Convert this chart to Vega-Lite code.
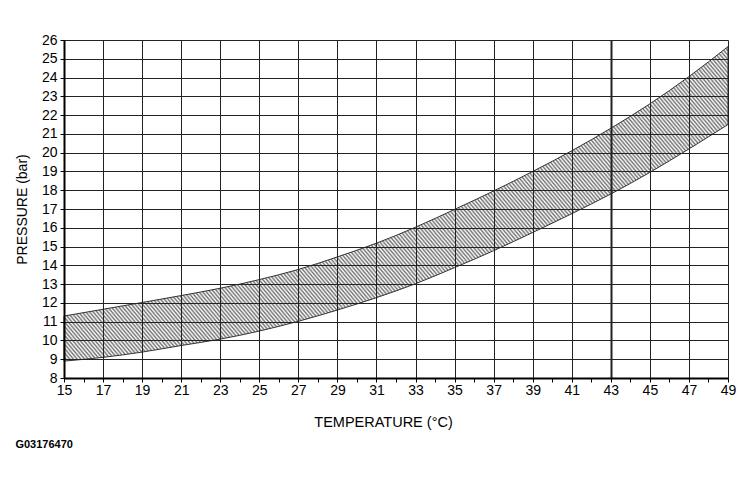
{
"$schema": "https://vega.github.io/schema/vega-lite/v6.json",
"width": 664,
"height": 338,
"autosize": {"type": "none"},
"padding": {"left": 64, "top": 40, "right": 22, "bottom": 105},
"background": "white",
"view": {"stroke": null},
"config": {"font": "Liberation Sans"},
"title": {"text": "G03176470", "orient": "bottom", "anchor": "start", "frame": "bounds", "baseline": "top", "offset": 10, "font": "Liberation Sans", "fontSize": 11, "fontWeight": "bold", "color": "black"},
"data": {"values": [
{"T": 15, "upper": 11.3, "lower": 8.9},
{"T": 17, "upper": 11.66, "lower": 9.1},
{"T": 19, "upper": 12.02, "lower": 9.38},
{"T": 21, "upper": 12.39, "lower": 9.73},
{"T": 23, "upper": 12.78, "lower": 10.07},
{"T": 25, "upper": 13.24, "lower": 10.5},
{"T": 27, "upper": 13.78, "lower": 11.02},
{"T": 29, "upper": 14.45, "lower": 11.62},
{"T": 31, "upper": 15.18, "lower": 12.28},
{"T": 33, "upper": 16.03, "lower": 13.02},
{"T": 35, "upper": 16.98, "lower": 13.88},
{"T": 37, "upper": 17.96, "lower": 14.78},
{"T": 39, "upper": 19.0, "lower": 15.75},
{"T": 41, "upper": 20.1, "lower": 16.75},
{"T": 43, "upper": 21.3, "lower": 17.8},
{"T": 45, "upper": 22.6, "lower": 18.95},
{"T": 47, "upper": 24.05, "lower": 20.2},
{"T": 49, "upper": 25.65, "lower": 21.5}
]},
"mark": {"type": "area", "interpolate": "monotone", "opacity": 1, "stroke": "#333", "strokeWidth": 1,
"fill": {"gradient": "linear", "x1": 0, "y1": 1, "x2": 1.207, "y2": 0.52, "stops": [
{"offset":0,"color":"#707070"},{"offset":0.002,"color":"#fff"},{"offset":0.004,"color":"#707070"},{"offset":0.006,"color":"#fff"},{"offset":0.008,"color":"#707070"},{"offset":0.01,"color":"#fff"},{"offset":0.012,"color":"#707070"},{"offset":0.014,"color":"#fff"},{"offset":0.016,"color":"#707070"},{"offset":0.018,"color":"#fff"},
{"offset":0.02,"color":"#707070"},{"offset":0.022,"color":"#fff"},{"offset":0.024,"color":"#707070"},{"offset":0.026,"color":"#fff"},{"offset":0.028,"color":"#707070"},{"offset":0.03,"color":"#fff"},{"offset":0.032,"color":"#707070"},{"offset":0.034,"color":"#fff"},{"offset":0.036,"color":"#707070"},{"offset":0.038,"color":"#fff"},
{"offset":0.04,"color":"#707070"},{"offset":0.042,"color":"#fff"},{"offset":0.044,"color":"#707070"},{"offset":0.046,"color":"#fff"},{"offset":0.048,"color":"#707070"},{"offset":0.05,"color":"#fff"},{"offset":0.052,"color":"#707070"},{"offset":0.054,"color":"#fff"},{"offset":0.056,"color":"#707070"},{"offset":0.058,"color":"#fff"},
{"offset":0.06,"color":"#707070"},{"offset":0.062,"color":"#fff"},{"offset":0.064,"color":"#707070"},{"offset":0.066,"color":"#fff"},{"offset":0.068,"color":"#707070"},{"offset":0.07,"color":"#fff"},{"offset":0.072,"color":"#707070"},{"offset":0.074,"color":"#fff"},{"offset":0.076,"color":"#707070"},{"offset":0.078,"color":"#fff"},
{"offset":0.08,"color":"#707070"},{"offset":0.082,"color":"#fff"},{"offset":0.084,"color":"#707070"},{"offset":0.086,"color":"#fff"},{"offset":0.088,"color":"#707070"},{"offset":0.09,"color":"#fff"},{"offset":0.092,"color":"#707070"},{"offset":0.094,"color":"#fff"},{"offset":0.096,"color":"#707070"},{"offset":0.098,"color":"#fff"},
{"offset":0.1,"color":"#707070"},{"offset":0.102,"color":"#fff"},{"offset":0.104,"color":"#707070"},{"offset":0.106,"color":"#fff"},{"offset":0.108,"color":"#707070"},{"offset":0.11,"color":"#fff"},{"offset":0.112,"color":"#707070"},{"offset":0.114,"color":"#fff"},{"offset":0.116,"color":"#707070"},{"offset":0.118,"color":"#fff"},
{"offset":0.12,"color":"#707070"},{"offset":0.122,"color":"#fff"},{"offset":0.124,"color":"#707070"},{"offset":0.126,"color":"#fff"},{"offset":0.128,"color":"#707070"},{"offset":0.13,"color":"#fff"},{"offset":0.132,"color":"#707070"},{"offset":0.134,"color":"#fff"},{"offset":0.136,"color":"#707070"},{"offset":0.138,"color":"#fff"},
{"offset":0.14,"color":"#707070"},{"offset":0.142,"color":"#fff"},{"offset":0.144,"color":"#707070"},{"offset":0.146,"color":"#fff"},{"offset":0.148,"color":"#707070"},{"offset":0.15,"color":"#fff"},{"offset":0.152,"color":"#707070"},{"offset":0.154,"color":"#fff"},{"offset":0.156,"color":"#707070"},{"offset":0.158,"color":"#fff"},
{"offset":0.16,"color":"#707070"},{"offset":0.162,"color":"#fff"},{"offset":0.164,"color":"#707070"},{"offset":0.166,"color":"#fff"},{"offset":0.168,"color":"#707070"},{"offset":0.17,"color":"#fff"},{"offset":0.172,"color":"#707070"},{"offset":0.174,"color":"#fff"},{"offset":0.176,"color":"#707070"},{"offset":0.178,"color":"#fff"},
{"offset":0.18,"color":"#707070"},{"offset":0.182,"color":"#fff"},{"offset":0.184,"color":"#707070"},{"offset":0.186,"color":"#fff"},{"offset":0.188,"color":"#707070"},{"offset":0.19,"color":"#fff"},{"offset":0.192,"color":"#707070"},{"offset":0.194,"color":"#fff"},{"offset":0.196,"color":"#707070"},{"offset":0.198,"color":"#fff"},
{"offset":0.2,"color":"#707070"},{"offset":0.202,"color":"#fff"},{"offset":0.204,"color":"#707070"},{"offset":0.206,"color":"#fff"},{"offset":0.208,"color":"#707070"},{"offset":0.21,"color":"#fff"},{"offset":0.212,"color":"#707070"},{"offset":0.214,"color":"#fff"},{"offset":0.216,"color":"#707070"},{"offset":0.218,"color":"#fff"},
{"offset":0.22,"color":"#707070"},{"offset":0.222,"color":"#fff"},{"offset":0.224,"color":"#707070"},{"offset":0.226,"color":"#fff"},{"offset":0.228,"color":"#707070"},{"offset":0.23,"color":"#fff"},{"offset":0.232,"color":"#707070"},{"offset":0.234,"color":"#fff"},{"offset":0.236,"color":"#707070"},{"offset":0.238,"color":"#fff"},
{"offset":0.24,"color":"#707070"},{"offset":0.242,"color":"#fff"},{"offset":0.244,"color":"#707070"},{"offset":0.246,"color":"#fff"},{"offset":0.248,"color":"#707070"},{"offset":0.25,"color":"#fff"},{"offset":0.252,"color":"#707070"},{"offset":0.254,"color":"#fff"},{"offset":0.256,"color":"#707070"},{"offset":0.258,"color":"#fff"},
{"offset":0.26,"color":"#707070"},{"offset":0.262,"color":"#fff"},{"offset":0.264,"color":"#707070"},{"offset":0.266,"color":"#fff"},{"offset":0.268,"color":"#707070"},{"offset":0.27,"color":"#fff"},{"offset":0.272,"color":"#707070"},{"offset":0.274,"color":"#fff"},{"offset":0.276,"color":"#707070"},{"offset":0.278,"color":"#fff"},
{"offset":0.28,"color":"#707070"},{"offset":0.282,"color":"#fff"},{"offset":0.284,"color":"#707070"},{"offset":0.286,"color":"#fff"},{"offset":0.288,"color":"#707070"},{"offset":0.29,"color":"#fff"},{"offset":0.292,"color":"#707070"},{"offset":0.294,"color":"#fff"},{"offset":0.296,"color":"#707070"},{"offset":0.298,"color":"#fff"},
{"offset":0.3,"color":"#707070"},{"offset":0.302,"color":"#fff"},{"offset":0.304,"color":"#707070"},{"offset":0.306,"color":"#fff"},{"offset":0.308,"color":"#707070"},{"offset":0.31,"color":"#fff"},{"offset":0.312,"color":"#707070"},{"offset":0.314,"color":"#fff"},{"offset":0.316,"color":"#707070"},{"offset":0.318,"color":"#fff"},
{"offset":0.32,"color":"#707070"},{"offset":0.322,"color":"#fff"},{"offset":0.324,"color":"#707070"},{"offset":0.326,"color":"#fff"},{"offset":0.328,"color":"#707070"},{"offset":0.33,"color":"#fff"},{"offset":0.332,"color":"#707070"},{"offset":0.334,"color":"#fff"},{"offset":0.336,"color":"#707070"},{"offset":0.338,"color":"#fff"},
{"offset":0.34,"color":"#707070"},{"offset":0.342,"color":"#fff"},{"offset":0.344,"color":"#707070"},{"offset":0.346,"color":"#fff"},{"offset":0.348,"color":"#707070"},{"offset":0.35,"color":"#fff"},{"offset":0.352,"color":"#707070"},{"offset":0.354,"color":"#fff"},{"offset":0.356,"color":"#707070"},{"offset":0.358,"color":"#fff"},
{"offset":0.36,"color":"#707070"},{"offset":0.362,"color":"#fff"},{"offset":0.364,"color":"#707070"},{"offset":0.366,"color":"#fff"},{"offset":0.368,"color":"#707070"},{"offset":0.37,"color":"#fff"},{"offset":0.372,"color":"#707070"},{"offset":0.374,"color":"#fff"},{"offset":0.376,"color":"#707070"},{"offset":0.378,"color":"#fff"},
{"offset":0.38,"color":"#707070"},{"offset":0.382,"color":"#fff"},{"offset":0.384,"color":"#707070"},{"offset":0.386,"color":"#fff"},{"offset":0.388,"color":"#707070"},{"offset":0.39,"color":"#fff"},{"offset":0.392,"color":"#707070"},{"offset":0.394,"color":"#fff"},{"offset":0.396,"color":"#707070"},{"offset":0.398,"color":"#fff"},
{"offset":0.4,"color":"#707070"},{"offset":0.402,"color":"#fff"},{"offset":0.404,"color":"#707070"},{"offset":0.406,"color":"#fff"},{"offset":0.408,"color":"#707070"},{"offset":0.41,"color":"#fff"},{"offset":0.412,"color":"#707070"},{"offset":0.414,"color":"#fff"},{"offset":0.416,"color":"#707070"},{"offset":0.418,"color":"#fff"},
{"offset":0.42,"color":"#707070"},{"offset":0.422,"color":"#fff"},{"offset":0.424,"color":"#707070"},{"offset":0.426,"color":"#fff"},{"offset":0.428,"color":"#707070"},{"offset":0.43,"color":"#fff"},{"offset":0.432,"color":"#707070"},{"offset":0.434,"color":"#fff"},{"offset":0.436,"color":"#707070"},{"offset":0.438,"color":"#fff"},
{"offset":0.44,"color":"#707070"},{"offset":0.442,"color":"#fff"},{"offset":0.444,"color":"#707070"},{"offset":0.446,"color":"#fff"},{"offset":0.448,"color":"#707070"},{"offset":0.45,"color":"#fff"},{"offset":0.452,"color":"#707070"},{"offset":0.454,"color":"#fff"},{"offset":0.456,"color":"#707070"},{"offset":0.458,"color":"#fff"},
{"offset":0.46,"color":"#707070"},{"offset":0.462,"color":"#fff"},{"offset":0.464,"color":"#707070"},{"offset":0.466,"color":"#fff"},{"offset":0.468,"color":"#707070"},{"offset":0.47,"color":"#fff"},{"offset":0.472,"color":"#707070"},{"offset":0.474,"color":"#fff"},{"offset":0.476,"color":"#707070"},{"offset":0.478,"color":"#fff"},
{"offset":0.48,"color":"#707070"},{"offset":0.482,"color":"#fff"},{"offset":0.484,"color":"#707070"},{"offset":0.486,"color":"#fff"},{"offset":0.488,"color":"#707070"},{"offset":0.49,"color":"#fff"},{"offset":0.492,"color":"#707070"},{"offset":0.494,"color":"#fff"},{"offset":0.496,"color":"#707070"},{"offset":0.498,"color":"#fff"},
{"offset":0.5,"color":"#707070"},{"offset":0.502,"color":"#fff"},{"offset":0.504,"color":"#707070"},{"offset":0.506,"color":"#fff"},{"offset":0.508,"color":"#707070"},{"offset":0.51,"color":"#fff"},{"offset":0.512,"color":"#707070"},{"offset":0.514,"color":"#fff"},{"offset":0.516,"color":"#707070"},{"offset":0.518,"color":"#fff"},
{"offset":0.52,"color":"#707070"},{"offset":0.522,"color":"#fff"},{"offset":0.524,"color":"#707070"},{"offset":0.526,"color":"#fff"},{"offset":0.528,"color":"#707070"},{"offset":0.53,"color":"#fff"},{"offset":0.532,"color":"#707070"},{"offset":0.534,"color":"#fff"},{"offset":0.536,"color":"#707070"},{"offset":0.538,"color":"#fff"},
{"offset":0.54,"color":"#707070"},{"offset":0.542,"color":"#fff"},{"offset":0.544,"color":"#707070"},{"offset":0.546,"color":"#fff"},{"offset":0.548,"color":"#707070"},{"offset":0.55,"color":"#fff"},{"offset":0.552,"color":"#707070"},{"offset":0.554,"color":"#fff"},{"offset":0.556,"color":"#707070"},{"offset":0.558,"color":"#fff"},
{"offset":0.56,"color":"#707070"},{"offset":0.562,"color":"#fff"},{"offset":0.564,"color":"#707070"},{"offset":0.566,"color":"#fff"},{"offset":0.568,"color":"#707070"},{"offset":0.57,"color":"#fff"},{"offset":0.572,"color":"#707070"},{"offset":0.574,"color":"#fff"},{"offset":0.576,"color":"#707070"},{"offset":0.578,"color":"#fff"},
{"offset":0.58,"color":"#707070"},{"offset":0.582,"color":"#fff"},{"offset":0.584,"color":"#707070"},{"offset":0.586,"color":"#fff"},{"offset":0.588,"color":"#707070"},{"offset":0.59,"color":"#fff"},{"offset":0.592,"color":"#707070"},{"offset":0.594,"color":"#fff"},{"offset":0.596,"color":"#707070"},{"offset":0.598,"color":"#fff"},
{"offset":0.6,"color":"#707070"},{"offset":0.602,"color":"#fff"},{"offset":0.604,"color":"#707070"},{"offset":0.606,"color":"#fff"},{"offset":0.608,"color":"#707070"},{"offset":0.61,"color":"#fff"},{"offset":0.612,"color":"#707070"},{"offset":0.614,"color":"#fff"},{"offset":0.616,"color":"#707070"},{"offset":0.618,"color":"#fff"},
{"offset":0.62,"color":"#707070"},{"offset":0.622,"color":"#fff"},{"offset":0.624,"color":"#707070"},{"offset":0.626,"color":"#fff"},{"offset":0.628,"color":"#707070"},{"offset":0.63,"color":"#fff"},{"offset":0.632,"color":"#707070"},{"offset":0.634,"color":"#fff"},{"offset":0.636,"color":"#707070"},{"offset":0.638,"color":"#fff"},
{"offset":0.64,"color":"#707070"},{"offset":0.642,"color":"#fff"},{"offset":0.644,"color":"#707070"},{"offset":0.646,"color":"#fff"},{"offset":0.648,"color":"#707070"},{"offset":0.65,"color":"#fff"},{"offset":0.652,"color":"#707070"},{"offset":0.654,"color":"#fff"},{"offset":0.656,"color":"#707070"},{"offset":0.658,"color":"#fff"},
{"offset":0.66,"color":"#707070"},{"offset":0.662,"color":"#fff"},{"offset":0.664,"color":"#707070"},{"offset":0.666,"color":"#fff"},{"offset":0.668,"color":"#707070"},{"offset":0.67,"color":"#fff"},{"offset":0.672,"color":"#707070"},{"offset":0.674,"color":"#fff"},{"offset":0.676,"color":"#707070"},{"offset":0.678,"color":"#fff"},
{"offset":0.68,"color":"#707070"},{"offset":0.682,"color":"#fff"},{"offset":0.684,"color":"#707070"},{"offset":0.686,"color":"#fff"},{"offset":0.688,"color":"#707070"},{"offset":0.69,"color":"#fff"},{"offset":0.692,"color":"#707070"},{"offset":0.694,"color":"#fff"},{"offset":0.696,"color":"#707070"},{"offset":0.698,"color":"#fff"},
{"offset":0.7,"color":"#707070"},{"offset":0.702,"color":"#fff"},{"offset":0.704,"color":"#707070"},{"offset":0.706,"color":"#fff"},{"offset":0.708,"color":"#707070"},{"offset":0.71,"color":"#fff"},{"offset":0.712,"color":"#707070"},{"offset":0.714,"color":"#fff"},{"offset":0.716,"color":"#707070"},{"offset":0.718,"color":"#fff"},
{"offset":0.72,"color":"#707070"},{"offset":0.722,"color":"#fff"},{"offset":0.724,"color":"#707070"},{"offset":0.726,"color":"#fff"},{"offset":0.728,"color":"#707070"},{"offset":0.73,"color":"#fff"},{"offset":0.732,"color":"#707070"},{"offset":0.734,"color":"#fff"},{"offset":0.736,"color":"#707070"},{"offset":0.738,"color":"#fff"},
{"offset":0.74,"color":"#707070"},{"offset":0.742,"color":"#fff"},{"offset":0.744,"color":"#707070"},{"offset":0.746,"color":"#fff"},{"offset":0.748,"color":"#707070"},{"offset":0.75,"color":"#fff"},{"offset":0.752,"color":"#707070"},{"offset":0.754,"color":"#fff"},{"offset":0.756,"color":"#707070"},{"offset":0.758,"color":"#fff"},
{"offset":0.76,"color":"#707070"},{"offset":0.762,"color":"#fff"},{"offset":0.764,"color":"#707070"},{"offset":0.766,"color":"#fff"},{"offset":0.768,"color":"#707070"},{"offset":0.77,"color":"#fff"},{"offset":0.772,"color":"#707070"},{"offset":0.774,"color":"#fff"},{"offset":0.776,"color":"#707070"},{"offset":0.778,"color":"#fff"},
{"offset":0.78,"color":"#707070"},{"offset":0.782,"color":"#fff"},{"offset":0.784,"color":"#707070"},{"offset":0.786,"color":"#fff"},{"offset":0.788,"color":"#707070"},{"offset":0.79,"color":"#fff"},{"offset":0.792,"color":"#707070"},{"offset":0.794,"color":"#fff"},{"offset":0.796,"color":"#707070"},{"offset":0.798,"color":"#fff"},
{"offset":0.8,"color":"#707070"},{"offset":0.802,"color":"#fff"},{"offset":0.804,"color":"#707070"},{"offset":0.806,"color":"#fff"},{"offset":0.808,"color":"#707070"},{"offset":0.81,"color":"#fff"},{"offset":0.812,"color":"#707070"},{"offset":0.814,"color":"#fff"},{"offset":0.816,"color":"#707070"},{"offset":0.818,"color":"#fff"},
{"offset":0.82,"color":"#707070"},{"offset":0.822,"color":"#fff"},{"offset":0.824,"color":"#707070"},{"offset":0.826,"color":"#fff"},{"offset":0.828,"color":"#707070"},{"offset":0.83,"color":"#fff"},{"offset":0.832,"color":"#707070"},{"offset":0.834,"color":"#fff"},{"offset":0.836,"color":"#707070"},{"offset":0.838,"color":"#fff"},
{"offset":0.84,"color":"#707070"},{"offset":0.842,"color":"#fff"},{"offset":0.844,"color":"#707070"},{"offset":0.846,"color":"#fff"},{"offset":0.848,"color":"#707070"},{"offset":0.85,"color":"#fff"},{"offset":0.852,"color":"#707070"},{"offset":0.854,"color":"#fff"},{"offset":0.856,"color":"#707070"},{"offset":0.858,"color":"#fff"},
{"offset":0.86,"color":"#707070"},{"offset":0.862,"color":"#fff"},{"offset":0.864,"color":"#707070"},{"offset":0.866,"color":"#fff"},{"offset":0.868,"color":"#707070"},{"offset":0.87,"color":"#fff"},{"offset":0.872,"color":"#707070"},{"offset":0.874,"color":"#fff"},{"offset":0.876,"color":"#707070"},{"offset":0.878,"color":"#fff"},
{"offset":0.88,"color":"#707070"},{"offset":0.882,"color":"#fff"},{"offset":0.884,"color":"#707070"},{"offset":0.886,"color":"#fff"},{"offset":0.888,"color":"#707070"},{"offset":0.89,"color":"#fff"},{"offset":0.892,"color":"#707070"},{"offset":0.894,"color":"#fff"},{"offset":0.896,"color":"#707070"},{"offset":0.898,"color":"#fff"},
{"offset":0.9,"color":"#707070"},{"offset":0.902,"color":"#fff"},{"offset":0.904,"color":"#707070"},{"offset":0.906,"color":"#fff"},{"offset":0.908,"color":"#707070"},{"offset":0.91,"color":"#fff"},{"offset":0.912,"color":"#707070"},{"offset":0.914,"color":"#fff"},{"offset":0.916,"color":"#707070"},{"offset":0.918,"color":"#fff"},
{"offset":0.92,"color":"#707070"},{"offset":0.922,"color":"#fff"},{"offset":0.924,"color":"#707070"},{"offset":0.926,"color":"#fff"},{"offset":0.928,"color":"#707070"},{"offset":0.93,"color":"#fff"},{"offset":0.932,"color":"#707070"},{"offset":0.934,"color":"#fff"},{"offset":0.936,"color":"#707070"},{"offset":0.938,"color":"#fff"},
{"offset":0.94,"color":"#707070"},{"offset":0.942,"color":"#fff"},{"offset":0.944,"color":"#707070"},{"offset":0.946,"color":"#fff"},{"offset":0.948,"color":"#707070"},{"offset":0.95,"color":"#fff"},{"offset":0.952,"color":"#707070"},{"offset":0.954,"color":"#fff"},{"offset":0.956,"color":"#707070"},{"offset":0.958,"color":"#fff"},
{"offset":0.96,"color":"#707070"},{"offset":0.962,"color":"#fff"},{"offset":0.964,"color":"#707070"},{"offset":0.966,"color":"#fff"},{"offset":0.968,"color":"#707070"},{"offset":0.97,"color":"#fff"},{"offset":0.972,"color":"#707070"},{"offset":0.974,"color":"#fff"},{"offset":0.976,"color":"#707070"},{"offset":0.978,"color":"#fff"},
{"offset":0.98,"color":"#707070"},{"offset":0.982,"color":"#fff"},{"offset":0.984,"color":"#707070"},{"offset":0.986,"color":"#fff"},{"offset":0.988,"color":"#707070"},{"offset":0.99,"color":"#fff"},{"offset":0.992,"color":"#707070"},{"offset":0.994,"color":"#fff"},{"offset":0.996,"color":"#707070"},{"offset":0.998,"color":"#fff"},
{"offset":1,"color":"#707070"}
]}},
"encoding": {
"x": {"field": "T", "type": "quantitative", "scale": {"domain": [15, 49], "nice": false, "zero": false},
"axis": {"title": "TEMPERATURE (°C)", "values": [15,16,17,18,19,20,21,22,23,24,25,26,27,28,29,30,31,32,33,34,35,36,37,38,39,40,41,42,43,44,45,46,47,48,49],
"format": "d",
"labelExpr": "datum.value % 2 === 1 ? datum.label : ''", "labelOverlap": false, "labelFlush": false,
"labelFont": "Liberation Sans", "labelFontSize": 14, "labelColor": "black", "labelPadding": 1,
"tickSize": 4, "tickColor": "black", "tickWidth": 1, "domainColor": "black", "domainWidth": 2,
"grid": true, "gridColor": "#222",
"gridOpacity": {"condition": {"test": "datum.value % 2 === 1", "value": 1}, "value": 0},
"gridWidth": {"condition": {"test": "datum.value === 43", "value": 2}, "value": 1},
"titleFont": "Liberation Sans", "titleFontSize": 14.5, "titleFontWeight": "normal", "titleColor": "black", "titlePadding": 18, "titleX": 319, "titleAlign": "center", "zindex": 1}},
"y": {"field": "lower", "type": "quantitative", "scale": {"domain": [8, 26], "nice": false, "zero": false},
"axis": {"title": "PRESSURE (bar)", "values": [8,8.5,9,9.5,10,10.5,11,11.5,12,12.5,13,13.5,14,14.5,15,15.5,16,16.5,17,17.5,18,18.5,19,19.5,20,20.5,21,21.5,22,22.5,23,23.5,24,24.5,25,25.5,26],
"format": "d",
"labelExpr": "datum.value % 1 === 0 ? datum.label : ''", "labelOverlap": false, "labelFlush": false,
"labelFont": "Liberation Sans", "labelFontSize": 14, "labelColor": "black", "labelPadding": 3,
"tickSize": 4, "tickColor": "black", "tickWidth": 1, "domainColor": "black", "domainWidth": 2,
"grid": true, "gridColor": "#222",
"gridOpacity": {"condition": {"test": "datum.value % 1 === 0", "value": 1}, "value": 0},
"gridWidth": 1,
"titleFont": "Liberation Sans", "titleFontSize": 14, "titleFontWeight": "normal", "titleColor": "black", "titlePadding": 12, "zindex": 1}},
"y2": {"field": "upper"}
}
}
